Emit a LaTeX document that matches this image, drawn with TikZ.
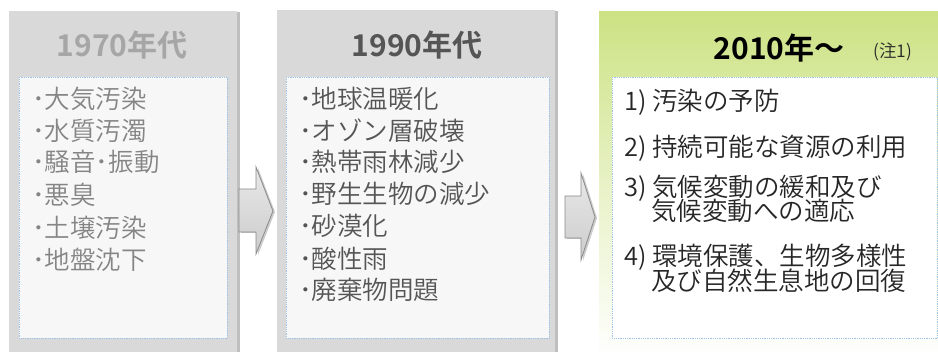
\documentclass[tikz,border=0pt]{standalone}
\usepackage{fontspec}
\setmainfont{Noto Sans CJK JP}[UprightFont={* DemiLight}, BoldFont={* Bold}]
\usetikzlibrary{shadows}
\definecolor{panelgray}{HTML}{D9D9D9}
\definecolor{boxfill}{HTML}{F7F7F7}
\definecolor{dotblue}{HTML}{9DC3E6}
\definecolor{greentop}{HTML}{CCE283}
\definecolor{txtA}{HTML}{858585}
\definecolor{titleA}{HTML}{A6A6A6}
\definecolor{txtB}{HTML}{555555}
\definecolor{titleB}{HTML}{555555}
\definecolor{arrowline}{HTML}{8A8A8A}
\tikzset{
  panel/.style={anchor=north west, inner sep=0, fill=panelgray,
    drop shadow={shadow xshift=3pt, shadow yshift=-1pt, opacity=0.25, fill=black}},
  innerbox/.style={anchor=north west, inner sep=0, draw=dotblue, densely dotted, line width=0.8pt, fill=boxfill},
  titletext/.style={font=\fontsize{30}{32}\selectfont\bfseries, inner sep=0},
  itemtext/.style={font=\fontsize{25.5}{30}\selectfont, inner sep=0, anchor=base west},
  blockarrow/.style={draw=arrowline, line width=0.8pt, top color=gray!18, bottom color=gray!40,
    drop shadow={shadow xshift=2pt, shadow yshift=-1pt, opacity=0.2, fill=black}},
}
\begin{document}
\begin{tikzpicture}[x=1pt,y=-1pt]
\useasboundingbox (0,0) rectangle (938,352);
\clip (0,0) rectangle (938,352);
\fill[white] (0,0) rectangle (938,352);

% panels
\node[panel, minimum width=228, minimum height=350] (p1) at (9,11) {};
\node[panel, minimum width=278, minimum height=350] (p2) at (277,10) {};
\node[anchor=north west, inner sep=0, minimum width=345, minimum height=350,
      top color=greentop, bottom color=white, middle color=greentop!45] (p3) at (599,11) {};

% inner boxes
\node[innerbox, minimum width=208, minimum height=261] (b1) at (19,77) {};
\node[innerbox, minimum width=263, minimum height=261] (b2) at (286,77) {};
\node[innerbox, fill=white, minimum width=325, minimum height=261] (b3) at (612,77) {};

% titles
\node[titletext, text=titleA] (t1) at (122,45) {1970年代};
\node[titletext, text=titleB] (t2) at (417,45) {1990年代};
\node[titletext, text=black] (t3) at (779,48) {2010年〜};
\node[inner sep=0, font=\fontsize{17.5}{19}\selectfont, text=black!85] (n1) at (893,52) {(注1)};

% arrows
\path[blockarrow] (239,189) -- (256,189) -- (256,167) -- (273,211) -- (256,254) -- (256,232) -- (239,232) -- cycle;
\path[blockarrow] (565,196) -- (581,196) -- (581,173) -- (595,217) -- (581,260) -- (581,238) -- (565,238) -- cycle;

% panel 1 items
\begin{scope}[every node/.style={itemtext, text=txtA}]
\node (a1) at (32,109) {･大気汚染};
\node (a2) at (32,141) {･水質汚濁};
\node (a3) at (32,172) {･騒音･振動};
\node (a4) at (32,205) {･悪臭};
\node (a5) at (32,238) {･土壌汚染};
\node (a6) at (32,270) {･地盤沈下};
\end{scope}

% panel 2 items
\begin{scope}[every node/.style={itemtext, text=txtB}]
\node (c1) at (299,109) {･地球温暖化};
\node (c2) at (299,141) {･オゾン層破壊};
\node (c3) at (299,172) {･熱帯雨林減少};
\node (c4) at (299,204) {･野生生物の減少};
\node (c5) at (299,236) {･砂漠化};
\node (c6) at (299,269) {･酸性雨};
\node (c7) at (299,300) {･廃棄物問題};
\end{scope}

% panel 3 items
\begin{scope}[every node/.style={itemtext, text=black!85}]
\node (d1) at (624,111) {1) 汚染の予防};
\node (d2) at (624,157) {2) 持続可能な資源の利用};
\node (d3) at (624,197) {3) 気候変動の緩和及び};
\node (d3b) at (651,221) {気候変動への適応};
\node (d4) at (624,266) {4) 環境保護、生物多様性};
\node (d4b) at (651,291) {及び自然生息地の回復};
\end{scope}
\end{tikzpicture}
\end{document}
